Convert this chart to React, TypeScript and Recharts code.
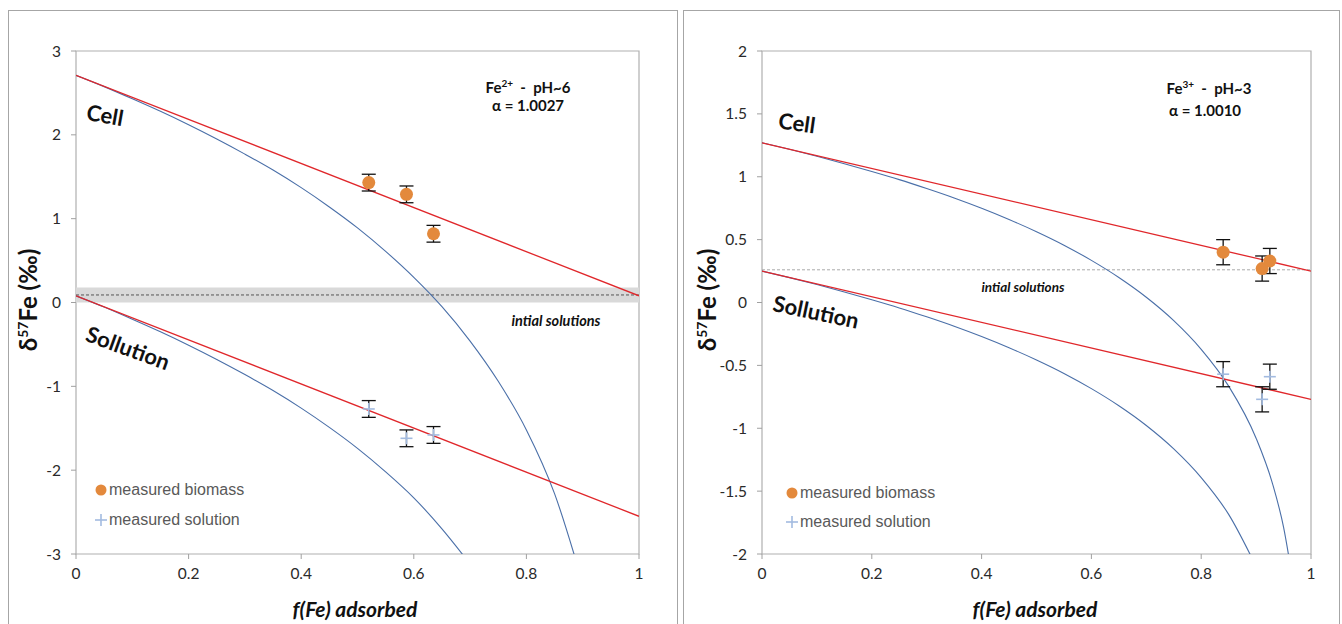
import React from 'react';
import { ComposedChart, Line, Scatter, XAxis, YAxis, ReferenceArea, ReferenceLine, ErrorBar } from 'recharts';

// ---------- Left panel (Fe2+, pH~6) ----------
const leftXTicks = [0, 0.2, 0.4, 0.6, 0.8, 1];
const leftYTicks = [-3, -2, -1, 0, 1, 2, 3];
const leftCurveF = [0, 0.05, 0.1, 0.15, 0.2, 0.25, 0.3, 0.35, 0.4, 0.45, 0.5, 0.55, 0.6, 0.65, 0.7, 0.75, 0.8, 0.85, 0.9];
const leftCellRayleigh = [2.71, 2.575, 2.43, 2.28, 2.12, 1.95, 1.77, 1.58, 1.37, 1.14, 0.89, 0.61, 0.3, -0.05, -0.46, -0.94, -1.52, -2.28, -3.35];
const leftSolF = [0, 0.05, 0.1, 0.15, 0.2, 0.25, 0.3, 0.35, 0.4, 0.45, 0.5, 0.55, 0.6, 0.65, 0.7];
const leftSolRayleigh = [0.08, -0.055, -0.2, -0.35, -0.51, -0.68, -0.86, -1.05, -1.26, -1.49, -1.74, -2.02, -2.33, -2.7, -3.12];
const lineF = [0, 1];
const leftCellLinear = [2.71, 0.08];
const leftSolLinear = [0.08, -2.55];
const leftObsF = [0.52, 0.587, 0.635];
const leftBiomass = [1.43, 1.29, 0.82];
const leftBiomassErr = [0.1, 0.1, 0.1];
const leftSolution = [-1.27, -1.62, -1.58];
const leftSolutionErr = [0.1, 0.1, 0.1];
const leftInitialBand = [0, 0.18];
const leftInitial = 0.09;

// ---------- Right panel (Fe3+, pH~3) ----------
const rightXTicks = [0, 0.2, 0.4, 0.6, 0.8, 1];
const rightYTicks = [-2, -1.5, -1, -0.5, 0, 0.5, 1, 1.5, 2];
const rightCellF = [0, 0.05, 0.1, 0.15, 0.2, 0.25, 0.3, 0.35, 0.4, 0.45, 0.5, 0.55, 0.6, 0.65, 0.7, 0.75, 0.8, 0.85, 0.9, 0.93, 0.95, 0.97];
const rightCellRayleigh = [1.27, 1.218, 1.163, 1.104, 1.042, 0.977, 0.906, 0.831, 0.749, 0.66, 0.563, 0.456, 0.335, 0.199, 0.042, -0.144, -0.372, -0.665, -1.079, -1.442, -1.786, -2.307];
const rightSolF = [0, 0.05, 0.1, 0.15, 0.2, 0.25, 0.3, 0.35, 0.4, 0.45, 0.5, 0.55, 0.6, 0.65, 0.7, 0.75, 0.8, 0.85, 0.9];
const rightSolRayleigh = [0.25, 0.198, 0.143, 0.084, 0.022, -0.043, -0.114, -0.189, -0.271, -0.36, -0.457, -0.564, -0.685, -0.821, -0.978, -1.164, -1.392, -1.685, -2.099];
const rightCellLinear = [1.27, 0.25];
const rightSolLinear = [0.25, -0.77];
const rightObsF = [0.84, 0.911, 0.925];
const rightBiomass = [0.4, 0.27, 0.33];
const rightBiomassErr = [0.1, 0.1, 0.1];
const rightSolution = [-0.57, -0.77, -0.59];
const rightSolutionErr = [0.1, 0.1, 0.1];
const rightInitial = 0.26;

const RED = '#e0272b';
const BLUE = '#4a6fa8';
const ORANGE = '#e3893c';
const LIGHTBLUE = '#a3bbe0';
const FONT = 'Lato, "Open Sans", sans-serif';

const toPts = (fs: number[], vs: number[]) => fs.map((f, i) => ({ f, v: vs[i] }));
const toObs = (fs: number[], vs: number[], es: number[]) => fs.map((f, i) => ({ f, v: vs[i], err: es[i] }));

const CircleShape = (p: any) => <circle cx={p.cx} cy={p.cy} r={6.5} fill={ORANGE} />;
const PlusShape = (p: any) => (
  <g stroke={LIGHTBLUE} strokeWidth={1.6}>
    <line x1={p.cx - 6} y1={p.cy} x2={p.cx + 6} y2={p.cy} />
    <line x1={p.cx} y1={p.cy - 6} x2={p.cx} y2={p.cy + 6} />
  </g>
);

const tickStyle = { fontSize: 15.5, fill: '#2a2a2a', fontFamily: FONT };

type PanelProps = {
  left: number; width: number; margin: any;
  xTicks: number[]; yTicks: number[]; yDomain: [number, number];
  cellF: number[]; cellR: number[]; solF: number[]; solR: number[];
  cellLin: number[]; solLin: number[];
  obsF: number[]; bio: number[]; bioErr: number[]; sol: number[]; solErr: number[];
  band?: number[]; initial: number; initialStroke: string;
};

const Panel = (p: PanelProps) => (
  <div style={{ position: 'absolute', left: p.left, top: 0 }}>
    <ComposedChart width={p.width} height={624} margin={p.margin}>
      <XAxis dataKey="f" type="number" domain={[0, 1]} ticks={p.xTicks} allowDataOverflow
        axisLine={false} tickLine={{ stroke: '#a0a0a0' }} tickSize={5} tick={tickStyle} tickMargin={9} height={30} />
      <YAxis dataKey="v" type="number" domain={p.yDomain} ticks={p.yTicks} allowDataOverflow
        axisLine={false} tickLine={{ stroke: '#a0a0a0' }} tickSize={5} tick={tickStyle} tickMargin={10} width={40} />
      <ReferenceArea x1={0} x2={1} y1={p.yDomain[0]} y2={p.yDomain[1]} fill="none" stroke="#b0b0b0" strokeWidth={1.2} ifOverflow="visible" />
      {p.band && (
        <ReferenceArea x1={0} x2={1} y1={p.band[0]} y2={p.band[1]} fill="#d9d9d9" fillOpacity={1} stroke="none" />
      )}
      <ReferenceLine y={p.initial} stroke={p.initialStroke} strokeDasharray="3 2" strokeWidth={1} />
      <Line data={toPts(p.cellF, p.cellR)} dataKey="v" type="monotone" stroke={BLUE} strokeWidth={1.1} dot={false} activeDot={false} isAnimationActive={false} />
      <Line data={toPts(p.solF, p.solR)} dataKey="v" type="monotone" stroke={BLUE} strokeWidth={1.1} dot={false} activeDot={false} isAnimationActive={false} />
      <Line data={toPts(lineF, p.cellLin)} dataKey="v" type="linear" stroke={RED} strokeWidth={1.3} dot={false} activeDot={false} isAnimationActive={false} />
      <Line data={toPts(lineF, p.solLin)} dataKey="v" type="linear" stroke={RED} strokeWidth={1.3} dot={false} activeDot={false} isAnimationActive={false} />
      <Scatter data={toObs(p.obsF, p.sol, p.solErr)} dataKey="v" shape={PlusShape} isAnimationActive={false}>
        <ErrorBar dataKey="err" direction="y" width={7} stroke="#111" strokeWidth={1.3} />
      </Scatter>
      <Scatter data={toObs(p.obsF, p.bio, p.bioErr)} dataKey="v" shape={CircleShape} isAnimationActive={false}>
        <ErrorBar dataKey="err" direction="y" width={7} stroke="#111" strokeWidth={1.3} />
      </Scatter>
    </ComposedChart>
  </div>
);

const T = ({ x, y, rot = 0, size = 14, bold = true, italic = false, color = '#111', family = FONT, children }: any) => (
  <div style={{
    position: 'absolute', left: x, top: y, transform: `translate(-50%, -50%) rotate(${rot}deg)`,
    fontSize: size, fontWeight: bold ? 700 : 400, fontStyle: italic ? 'italic' : 'normal',
    color, fontFamily: family, whiteSpace: 'nowrap', lineHeight: 1,
  }}>{children}</div>
);

const LegendItem = ({ x, y, kind, label }: any) => (
  <div style={{ position: 'absolute', left: x - 7, top: y - 10, height: 20, display: 'flex', alignItems: 'center',
    fontFamily: '"Liberation Sans", Arial, sans-serif', fontSize: 16, color: '#595959', whiteSpace: 'nowrap' }}>
    <svg width={14} height={14} style={{ marginRight: 1 }}>
      {kind === 'circle'
        ? <circle cx={7} cy={7} r={5.5} fill={ORANGE} />
        : <g stroke={LIGHTBLUE} strokeWidth={1.6}><line x1={1} y1={7} x2={13} y2={7} /><line x1={7} y1={1} x2={7} y2={13} /></g>}
    </svg>
    {label}
  </div>
);

const YLabel = ({ x, y }: any) => (
  <T x={x} y={y} rot={-90} size={24}>δ<sup style={{ fontSize: 14, verticalAlign: 'super', lineHeight: 0 }}>57</sup>Fe (‰)</T>
);

export default function App() {
  return (
    <div style={{ position: 'absolute', left: 0, top: 0, width: 1342, height: 624, background: '#fff', overflow: 'hidden' }}>
      <div style={{ position: 'absolute', left: 8, top: 10, width: 668, height: 640, border: '1px solid #a6a6a6' }} />
      <div style={{ position: 'absolute', left: 683, top: 10, width: 655, height: 640, border: '1px solid #a6a6a6' }} />

      <Panel left={0} width={680} margin={{ top: 51, right: 41, bottom: 40, left: 36 }}
        xTicks={leftXTicks} yTicks={leftYTicks} yDomain={[-3, 3]}
        cellF={leftCurveF} cellR={leftCellRayleigh} solF={leftSolF} solR={leftSolRayleigh}
        cellLin={leftCellLinear} solLin={leftSolLinear}
        obsF={leftObsF} bio={leftBiomass} bioErr={leftBiomassErr} sol={leftSolution} solErr={leftSolutionErr}
        band={leftInitialBand} initial={leftInitial} initialStroke="#555" />

      <Panel left={680} width={662} margin={{ top: 51, right: 31, bottom: 40, left: 42 }}
        xTicks={rightXTicks} yTicks={rightYTicks} yDomain={[-2, 2]}
        cellF={rightCellF} cellR={rightCellRayleigh} solF={rightSolF} solR={rightSolRayleigh}
        cellLin={rightCellLinear} solLin={rightSolLinear}
        obsF={rightObsF} bio={rightBiomass} bioErr={rightBiomassErr} sol={rightSolution} solErr={rightSolutionErr}
        initial={rightInitial} initialStroke="#aaaaaa" />

      {/* Left annotations */}
      <T x={105} y={115} rot={10} size={22}>Cell</T>
      <T x={128} y={348} rot={20} size={22}>Sollution</T>
      <T x={556} y={321} size={14.5} italic>intial solutions</T>
      <T x={528} y={87} size={15}>Fe<sup style={{ fontSize: 10, lineHeight: 0 }}>2+</sup>&nbsp; - &nbsp;pH~6</T>
      <T x={528} y={105} size={15}>α = 1.0027</T>
      <YLabel x={28} y={300} />
      <T x={355} y={608} size={21} italic>f(Fe) adsorbed</T>
      <LegendItem x={101} y={490} kind="circle" label="measured biomass" />
      <LegendItem x={101} y={520} kind="plus" label="measured solution" />

      {/* Right annotations */}
      <T x={797} y={123} rot={8} size={22}>Cell</T>
      <T x={816} y={312} rot={12} size={22}>Sollution</T>
      <T x={1023} y={288} size={13.5} italic>intial solutions</T>
      <T x={1209} y={88} size={15}>Fe<sup style={{ fontSize: 10, lineHeight: 0 }}>3+</sup>&nbsp; - &nbsp;pH~3</T>
      <T x={1205} y={110} size={15}>α = 1.0010</T>
      <YLabel x={707} y={300} />
      <T x={1035} y={608} size={21} italic>f(Fe) adsorbed</T>
      <LegendItem x={792} y={493} kind="circle" label="measured biomass" />
      <LegendItem x={792} y={522} kind="plus" label="measured solution" />
    </div>
  );
}
